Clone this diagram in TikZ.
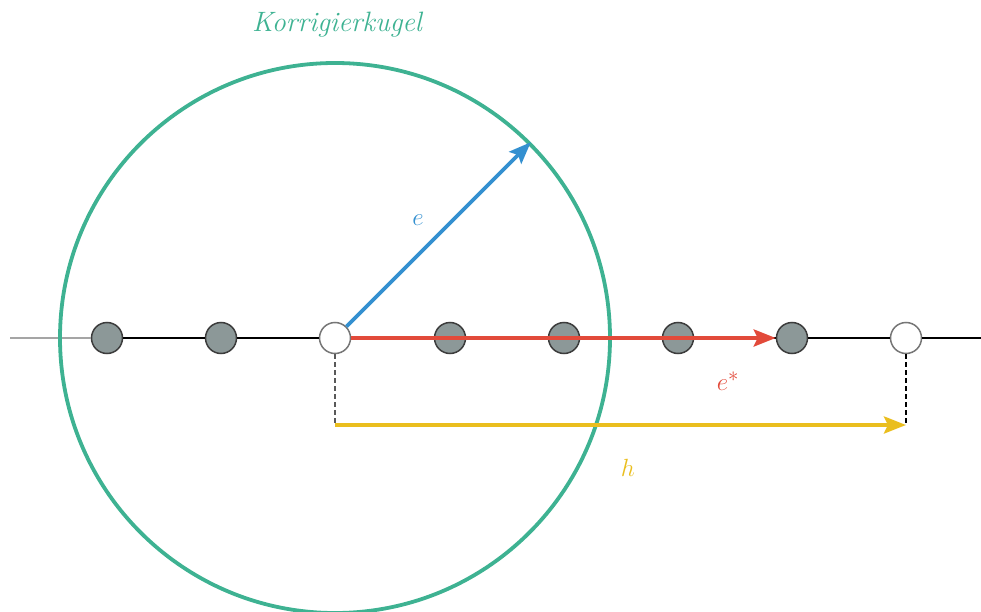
\documentclass[tikz,border=0pt]{standalone}
\usetikzlibrary{arrows.meta}
\definecolor{kteal}{RGB}{62,178,146}
\definecolor{kblue}{RGB}{52,144,208}
\definecolor{kred}{RGB}{226,74,58}
\definecolor{kyellow}{RGB}{234,190,30}
\definecolor{kgrayfill}{RGB}{140,152,152}
\definecolor{kgrayline}{RGB}{165,165,165}
\definecolor{kdark}{RGB}{60,60,60}
\tikzset{
  site/.style={circle, draw=kdark, line width=1.5pt, minimum size=31pt, inner sep=0pt, fill=kgrayfill},
  vac/.style={site, fill=white, draw=kdark!70},
  chain/.style={line width=1.8pt, black},
  arr/.style={line width=3.8pt, -{Stealth[length=22pt,width=17pt,inset=4pt]}},
  lbl/.style={font=\fontsize{28}{32}\selectfont},
  guide/.style={line width=1.3pt, black, dash pattern=on 5pt off 3pt}
}
\begin{document}
\begin{tikzpicture}[x=1pt,y=-1pt]
\useasboundingbox (0,0) rectangle (981,612);
% chain sites
\foreach \i/\x in {1/107,2/221,4/450,5/564,6/678,7/792}{
  \node[site] (s\i) at (\x,338) {};
}
\node[vac] (s3) at (335,338) {};
\node[vac] (s8) at (906,338) {};
\coordinate (lend) at (10,338);
\coordinate (rend) at (981,338);
% chain lines
\draw[line width=1.8pt, kgrayline] (lend) -- (s1);
\draw[chain] (s1) -- (s2);
\draw[chain] (s2) -- (s3);
\draw[chain] (s3) -- (s4);
\draw[chain] (s4) -- (s5);
\draw[chain] (s5) -- (s6);
\draw[chain] (s6) -- (s7);
\draw[chain] (s7) -- (s8);
\draw[chain] (s8) -- (rend);
% sphere
\node[circle, draw=kteal, line width=3.8pt, minimum size=550pt, inner sep=0pt] (kugel) at (335,338) {};
\node[lbl, text=kteal] (ktext) at (337,25) {\itshape Korrigierkugel};
% guides and h
\coordinate (hl) at (335,425);
\coordinate (hr) at (906,425);
\draw[guide, black!65] (s3.south) -- (hl);
\draw[guide] (s8.south) -- (hr);
\draw[arr, kyellow] (hl) -- (hr);
\node[lbl, text=kyellow] (hlab) at (628,468) {$h$};
% e
\draw[arr, kblue] (s3.45) -- (kugel.45);
\node[lbl, text=kblue] (elab) at (418,220) {$e$};
% e*
\draw[arr, kred] (s3.east) -- (s7.west);
\node[lbl, text=kred] (eslab) at (728,381) {$e^*$};
\end{tikzpicture}
\end{document}
